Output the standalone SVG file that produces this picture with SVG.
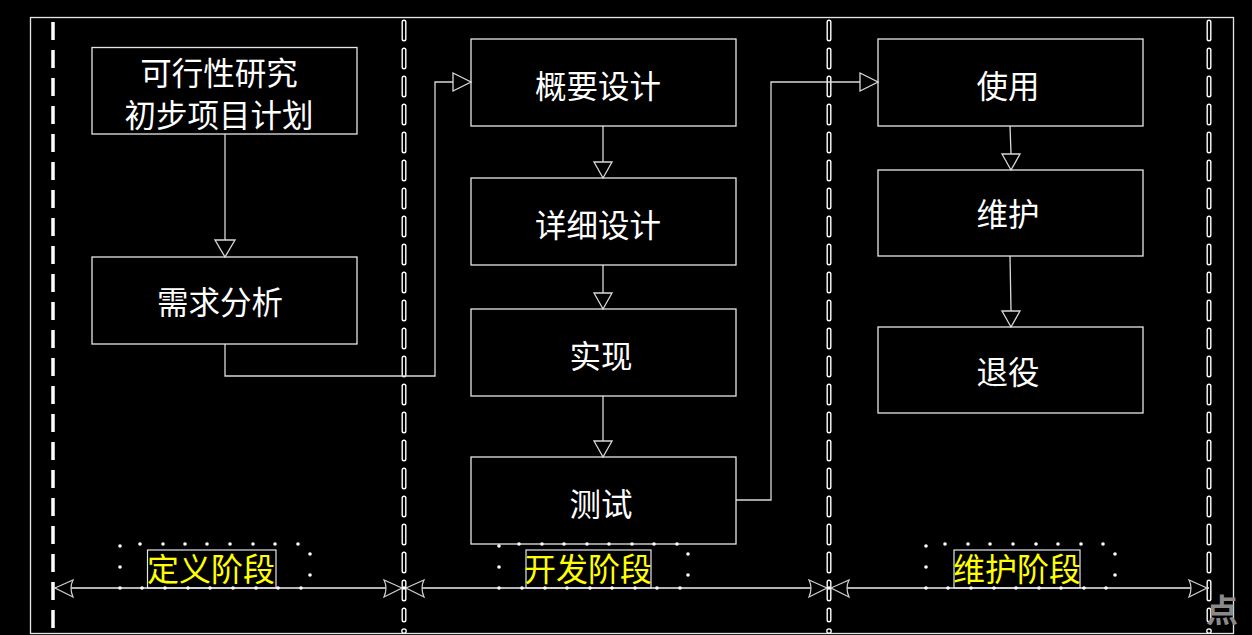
<svg xmlns="http://www.w3.org/2000/svg" width="1252" height="635" viewBox="0 0 1252 635">
<defs>
<style>
.bg{fill:#000}
.box{fill:none;stroke:#e6e6e6;stroke-width:1.3}
.lbl{fill:#fff;font-family:"Noto Sans CJK SC","Noto Sans",sans-serif;font-size:31.5px;text-anchor:middle}
.ph{fill:#ffff00;font-family:"Noto Sans CJK SC","Noto Sans",sans-serif;font-size:32px;text-anchor:middle}
.phbox{fill:none;stroke:#e6e6e6;stroke-width:1.2}
.con{fill:none;stroke:#d9d9d9;stroke-width:1.3}
.ah{fill:#000;stroke:#d9d9d9;stroke-width:1.3}
.dim{fill:none;stroke:#f0f0f0;stroke-width:1.5}
.dimah{fill:#000;stroke:#cfcfcf;stroke-width:1.2}
.sep{fill:none;stroke:#fff;stroke-width:5;stroke-dasharray:17 11;stroke-linecap:round}
.sepin{fill:none;stroke:#000;stroke-width:2.2;stroke-dasharray:17 11;stroke-linecap:round}
.dot{fill:#fff}
</style>
</defs>
<rect class="bg" x="0" y="0" width="1252" height="635"/>
<rect x="30.5" y="17.5" width="1203" height="616" fill="none" stroke="#e6e6e6" stroke-width="1.3"/>

<g id="separators">
<line x1="53" y1="22" x2="53" y2="635" stroke="#fff" stroke-width="3.5" stroke-dasharray="18 10"/>
<line class="sep" x1="404" y1="22" x2="404" y2="620"/>
<line class="sepin" x1="404" y1="22" x2="404" y2="620"/>
<line class="sep" x1="829" y1="22" x2="829" y2="620"/>
<line class="sepin" x1="829" y1="22" x2="829" y2="620"/>
<line class="sep" x1="1209" y1="22" x2="1209" y2="620"/>
<line class="sepin" x1="1209" y1="22" x2="1209" y2="620"/>
<circle cx="404" cy="631" r="2.2" fill="#000" stroke="#fff" stroke-width="1.3"/>
<circle cx="829" cy="631" r="2.2" fill="#000" stroke="#fff" stroke-width="1.3"/>
<circle cx="1209" cy="631" r="2.2" fill="#000" stroke="#fff" stroke-width="1.3"/>
</g>

<g id="connectors">
<polyline class="con" points="225,134 225,240"/>
<path class="ah" d="M215,240 L235,240 L225,257 Z"/>
<polyline class="con" points="225,344 225,376 435,376 435,82 453,82"/>
<path class="ah" d="M453,73 L453,91 L471,82 Z"/>
<polyline class="con" points="603,126 603,162"/>
<path class="ah" d="M594,162 L612,162 L603,178 Z"/>
<polyline class="con" points="603,265 603,293"/>
<path class="ah" d="M594,293 L612,293 L603,309 Z"/>
<polyline class="con" points="603,396 603,441"/>
<path class="ah" d="M594,441 L612,441 L603,457 Z"/>
<polyline class="con" points="736,500 771,500 771,82 860,82"/>
<path class="ah" d="M860,73 L860,91 L878,82 Z"/>
<polyline class="con" points="1010,126 1011,154"/>
<path class="ah" d="M1002,154 L1020,154 L1011,170 Z"/>
<polyline class="con" points="1010,256 1011,311"/>
<path class="ah" d="M1002,311 L1020,311 L1011,327 Z"/>
</g>

<g id="node-feasibility">
<rect class="box" x="92" y="47.5" width="265" height="86.5"/>
<text class="lbl" x="219" y="85">可行性研究</text>
<text class="lbl" x="219" y="127">初步项目计划</text>
</g>
<g id="node-requirements">
<rect class="box" x="92" y="257" width="265" height="87"/>
<text class="lbl" x="220" y="314">需求分析</text>
</g>
<g id="node-outline-design">
<rect class="box" x="471" y="39" width="265" height="87"/>
<text class="lbl" x="598" y="98">概要设计</text>
</g>
<g id="node-detail-design">
<rect class="box" x="471" y="178" width="265" height="87"/>
<text class="lbl" x="598" y="237">详细设计</text>
</g>
<g id="node-implement">
<rect class="box" x="471" y="309" width="265" height="87"/>
<text class="lbl" x="601" y="368">实现</text>
</g>
<g id="node-test">
<rect class="box" x="471" y="457" width="265" height="87"/>
<text class="lbl" x="601" y="516">测试</text>
</g>
<g id="node-use">
<rect class="box" x="878" y="39" width="265" height="87"/>
<text class="lbl" x="1008" y="98">使用</text>
</g>
<g id="node-maintain">
<rect class="box" x="878" y="170" width="265" height="86"/>
<text class="lbl" x="1008" y="226">维护</text>
</g>
<g id="node-retire">
<rect class="box" x="878" y="327" width="265" height="86"/>
<text class="lbl" x="1008" y="384">退役</text>
</g>

<g id="dimension">
<line class="dim" x1="53" y1="588" x2="1209" y2="588"/>
<path class="dimah" d="M55,588 L73,580 Q69,588 73,597 Z"/>
<path class="dimah" d="M402,588 L384,580 Q388,588 384,597 Z"/>
<path class="dimah" d="M406,588 L424,580 Q420,588 424,597 Z"/>
<path class="dimah" d="M827,588 L809,580 Q813,588 809,597 Z"/>
<path class="dimah" d="M831,588 L849,580 Q845,588 849,597 Z"/>
<path class="dimah" d="M1207,588 L1189,580 Q1193,588 1189,597 Z"/>
<circle cx="404" cy="588" r="1.8" class="dot"/>
<circle cx="829" cy="588" r="1.8" class="dot"/>
</g>

<g id="phase-define">
<rect class="phbox" x="147.5" y="550" width="128.5" height="38" fill="#000"/>
<text class="ph" x="211" y="581">定义阶段</text>
<g class="dot">
<circle cx="120" cy="546" r="1.8"/><circle cx="140" cy="544" r="1.8"/><circle cx="163" cy="544" r="1.8"/><circle cx="185" cy="544" r="1.8"/><circle cx="207" cy="544" r="1.8"/><circle cx="230" cy="544" r="1.8"/><circle cx="253" cy="544" r="1.8"/><circle cx="275" cy="544" r="1.8"/><circle cx="298" cy="544" r="1.8"/>
<circle cx="120" cy="567" r="1.8"/><circle cx="310" cy="554" r="1.8"/><circle cx="310" cy="575" r="1.8"/>
<circle cx="120" cy="588" r="1.8"/><circle cx="142" cy="588" r="1.8"/><circle cx="165" cy="588" r="1.8"/><circle cx="188" cy="588" r="1.8"/><circle cx="210" cy="588" r="1.8"/><circle cx="233" cy="588" r="1.8"/><circle cx="256" cy="588" r="1.8"/><circle cx="278" cy="588" r="1.8"/><circle cx="301" cy="588" r="1.8"/>
</g>
</g>

<g id="phase-develop">
<rect class="phbox" x="526" y="550" width="125" height="38" fill="#000"/>
<text class="ph" x="588" y="581">开发阶段</text>
<g class="dot">
<circle cx="499" cy="546" r="1.8"/><circle cx="519" cy="544" r="1.8"/><circle cx="542" cy="544" r="1.8"/><circle cx="564" cy="544" r="1.8"/><circle cx="587" cy="544" r="1.8"/><circle cx="609" cy="544" r="1.8"/><circle cx="632" cy="544" r="1.8"/><circle cx="654" cy="544" r="1.8"/><circle cx="677" cy="544" r="1.8"/>
<circle cx="499" cy="567" r="1.8"/><circle cx="688" cy="554" r="1.8"/><circle cx="688" cy="575" r="1.8"/>
<circle cx="499" cy="588" r="1.8"/><circle cx="522" cy="588" r="1.8"/><circle cx="545" cy="588" r="1.8"/><circle cx="567" cy="588" r="1.8"/><circle cx="590" cy="588" r="1.8"/><circle cx="612" cy="588" r="1.8"/><circle cx="635" cy="588" r="1.8"/><circle cx="657" cy="588" r="1.8"/><circle cx="680" cy="588" r="1.8"/>
</g>
</g>

<g id="phase-maintain">
<rect class="phbox" x="954" y="550" width="126" height="38" fill="#000"/>
<text class="ph" x="1017" y="581">维护阶段</text>
<g class="dot">
<circle cx="926" cy="546" r="1.8"/><circle cx="945" cy="544" r="1.8"/><circle cx="968" cy="544" r="1.8"/><circle cx="990" cy="544" r="1.8"/><circle cx="1013" cy="544" r="1.8"/><circle cx="1036" cy="544" r="1.8"/><circle cx="1058" cy="544" r="1.8"/><circle cx="1081" cy="544" r="1.8"/><circle cx="1103" cy="544" r="1.8"/>
<circle cx="926" cy="567" r="1.8"/><circle cx="1115" cy="554" r="1.8"/><circle cx="1115" cy="575" r="1.8"/>
<circle cx="926" cy="588" r="1.8"/><circle cx="948" cy="588" r="1.8"/><circle cx="971" cy="588" r="1.8"/><circle cx="994" cy="588" r="1.8"/><circle cx="1016" cy="588" r="1.8"/><circle cx="1039" cy="588" r="1.8"/><circle cx="1061" cy="588" r="1.8"/><circle cx="1084" cy="588" r="1.8"/><circle cx="1106" cy="588" r="1.8"/>
</g>
</g>

<text x="1206" y="622" fill="#8a8a8a" font-family="Noto Sans CJK SC, sans-serif" font-size="32" font-weight="bold">点</text>
</svg>
